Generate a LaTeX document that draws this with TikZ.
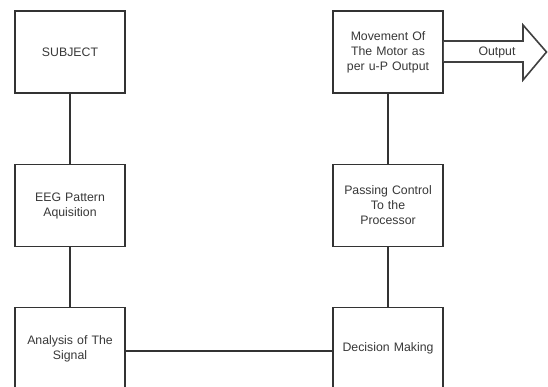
\documentclass[tikz,border=0pt]{standalone}
\usepackage{fontspec}
\setmainfont{Liberation Sans}
\begin{document}
\begin{tikzpicture}[x=1pt,y=-1pt,
  every node/.style={font=\fontsize{12.3}{15}\selectfont, text=black!78},
  blk/.style={draw=black!80, line width=1.8pt, fill=white, minimum width=110pt, minimum height=82pt, text width=100pt, align=center, inner sep=0pt},
  conn/.style={draw=black!80, line width=1.8pt},
  bigarrow/.style={draw=black!75, line width=1.6pt, line join=miter, fill=white}]
\useasboundingbox (0,0) rectangle (548,387);
\clip (0,0) rectangle (548,387);
\node[blk] (sub) at (70,52) {SUBJECT};
\node[blk] (eeg) at (70,205.5) {EEG Pattern\\Aquisition};
\node[blk] (ana) at (70,348.5) {Analysis of The\\Signal};
\node[blk] (mov) at (388,52) {Movement Of\\The Motor as\\per u-P Output};
\node[blk] (pas) at (388,205.5) {Passing Control\\To the\\Processor};
\node[blk] (dec) at (388,348.5) {Decision Making};
\draw[conn] (sub) -- (eeg);
\draw[conn] (eeg) -- (ana);
\draw[conn] (ana.east |- 0,351) -- (dec.west |- 0,351);
\draw[conn] (dec) -- (pas);
\draw[conn] (pas) -- (mov);
\draw[bigarrow] (mov.east |- 0,41) -- (523,41) -- (523,25) -- (546.5,52) -- (523,80) -- (523,62) -- (mov.east |- 0,62);
\node (out) at (497,52) {Output};
\end{tikzpicture}
\end{document}
